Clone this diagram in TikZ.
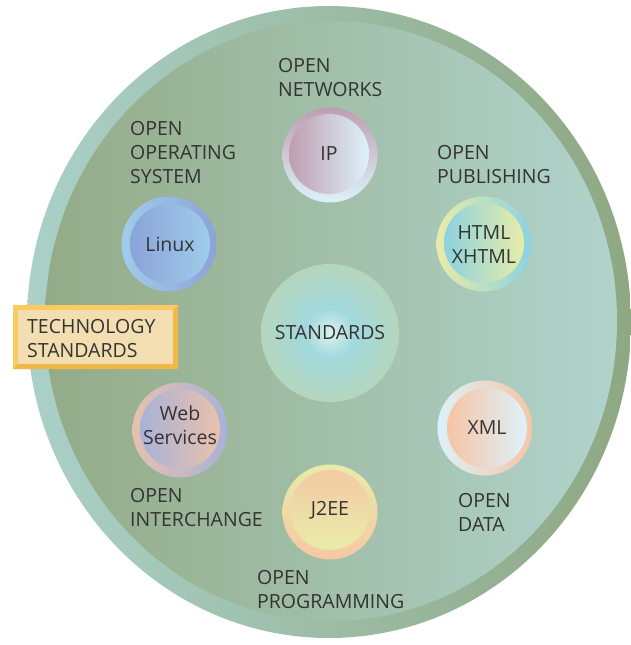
\documentclass[tikz,border=0pt]{standalone}
\usepackage{fontspec}
\setmainfont{Open Sans}
\definecolor{ringlight}{HTML}{AAD0C8}
\definecolor{ringdark}{HTML}{8FA883}
\definecolor{plate}{HTML}{93AB87}
\definecolor{platelight}{HTML}{B0D3CC}
\definecolor{inkgrey}{HTML}{333333}
\definecolor{mauve}{HTML}{BE9EB0}
\definecolor{icecyan}{HTML}{DDF2FA}
\definecolor{skyblue}{HTML}{A0CCEA}
\definecolor{periwinkle}{HTML}{8AA4D8}
\definecolor{paleyellow}{HTML}{E8ECA8}
\definecolor{cyan}{HTML}{8CD2E0}
\definecolor{peach}{HTML}{F6C4A4}
\definecolor{lavender}{HTML}{A8B2D8}
\definecolor{gold}{HTML}{FBCB62}
\definecolor{golddark}{HTML}{F0B847}
\definecolor{cream}{HTML}{F2DEB0}
\definecolor{glowwhite}{HTML}{DCF1EC}
\definecolor{glowcyan}{HTML}{A2D9DD}
\definecolor{glowrim}{HTML}{C4D4A4}
% soft glow for the middle disc
\pgfdeclareradialshading{stdglow}{\pgfpoint{0bp}{0bp}}{%
  color(0bp)=(glowwhite); color(9bp)=(glowcyan); color(22bp)=(glowcyan!55!glowrim);
  color(40bp)=(glowrim); color(50bp)=(glowrim); color(100bp)=(glowrim)}
\begin{document}
\begin{tikzpicture}[x=1pt,y=-1pt,
    every node/.style={font=\fontsize{19.5}{24}\selectfont, text=inkgrey},
    disc/.style={circle, minimum size=95pt, inner sep=0pt},
    core/.style={circle, minimum size=80pt, inner sep=0pt, align=center},
    caption/.style={anchor=north west, align=left, inner sep=0pt}]
  \useasboundingbox (0,0) rectangle (631,645);
  % outer ring and plate
  \shade[left color=ringlight, right color=ringdark]
    (329,322) ellipse [x radius=302, y radius=316];
  \shade[left color=plate, right color=platelight]
    (331,321) ellipse [x radius=286, y radius=300];

  % centre
  \node[circle, minimum size=138pt, inner sep=0pt, shading=stdglow]
    (std) at (330,333) {};
  \node at (std) {STANDARDS};

  % the six discs
  \node[disc, top color=mauve, bottom color=icecyan] (ip) at (330,155) {};
  \node[core, left color=mauve, right color=icecyan] (ip-in) at (329,154) {IP};

  \node[disc, left color=skyblue, right color=periwinkle] (linux) at (169,244) {};
  \node[core, left color=periwinkle, right color=skyblue] (linux-in) at (170,244) {Linux};

  \node[disc, left color=paleyellow, right color=cyan] (html) at (484,244) {};
  \node[core, left color=cyan, right color=paleyellow] (html-in) at (484,243) {};
  \node[align=center] at ([yshift=-2]html-in) {HTML\\XHTML};

  \node[disc, left color=peach!80!lavender, right color=lavender] (ws) at (180,430) {};
  \node[core, left color=lavender, right color=peach!85!lavender] (ws-in) at (180,429) {};
  \node[align=center] at ([yshift=4]ws-in) {Web\\Services};

  \node[disc, left color=icecyan, right color=peach] (xml) at (485,428) {};
  \node[core, left color=peach, right color=icecyan] (xml-in) at (487,428) {XML};

  \node[disc, top color=paleyellow, bottom color=peach!90!paleyellow] (j2ee) at (330,512) {};
  \node[core, top color=peach!85!paleyellow, bottom color=paleyellow] (j2ee-in) at (330,510) {J2EE};

  % captions
  \node[caption] (net) at (278,58) {OPEN\\NETWORKS};
  \node[caption] (os) at (130,121) {OPEN\\OPERATING\\SYSTEM};
  \node[caption] (pub) at (437,145) {OPEN\\PUBLISHING};
  \node[caption] (inter) at (130,488) {OPEN\\INTERCHANGE};
  \node[caption] (data) at (458,493) {OPEN\\DATA};
  \node[caption] (prog) at (257,570) {OPEN\\PROGRAMMING};

  % title plate
  \fill[gold] (13,305) rectangle (178,369);
  \fill[golddark] (178,305) -- (178,369) -- (13,369) -- (18,364) -- (173,364) -- (173,310) -- cycle;
  \fill[cream] (18,310) rectangle (173,364);
  \node[caption] (title) at (27,319) {TECHNOLOGY\\STANDARDS};
\end{tikzpicture}
\end{document}
